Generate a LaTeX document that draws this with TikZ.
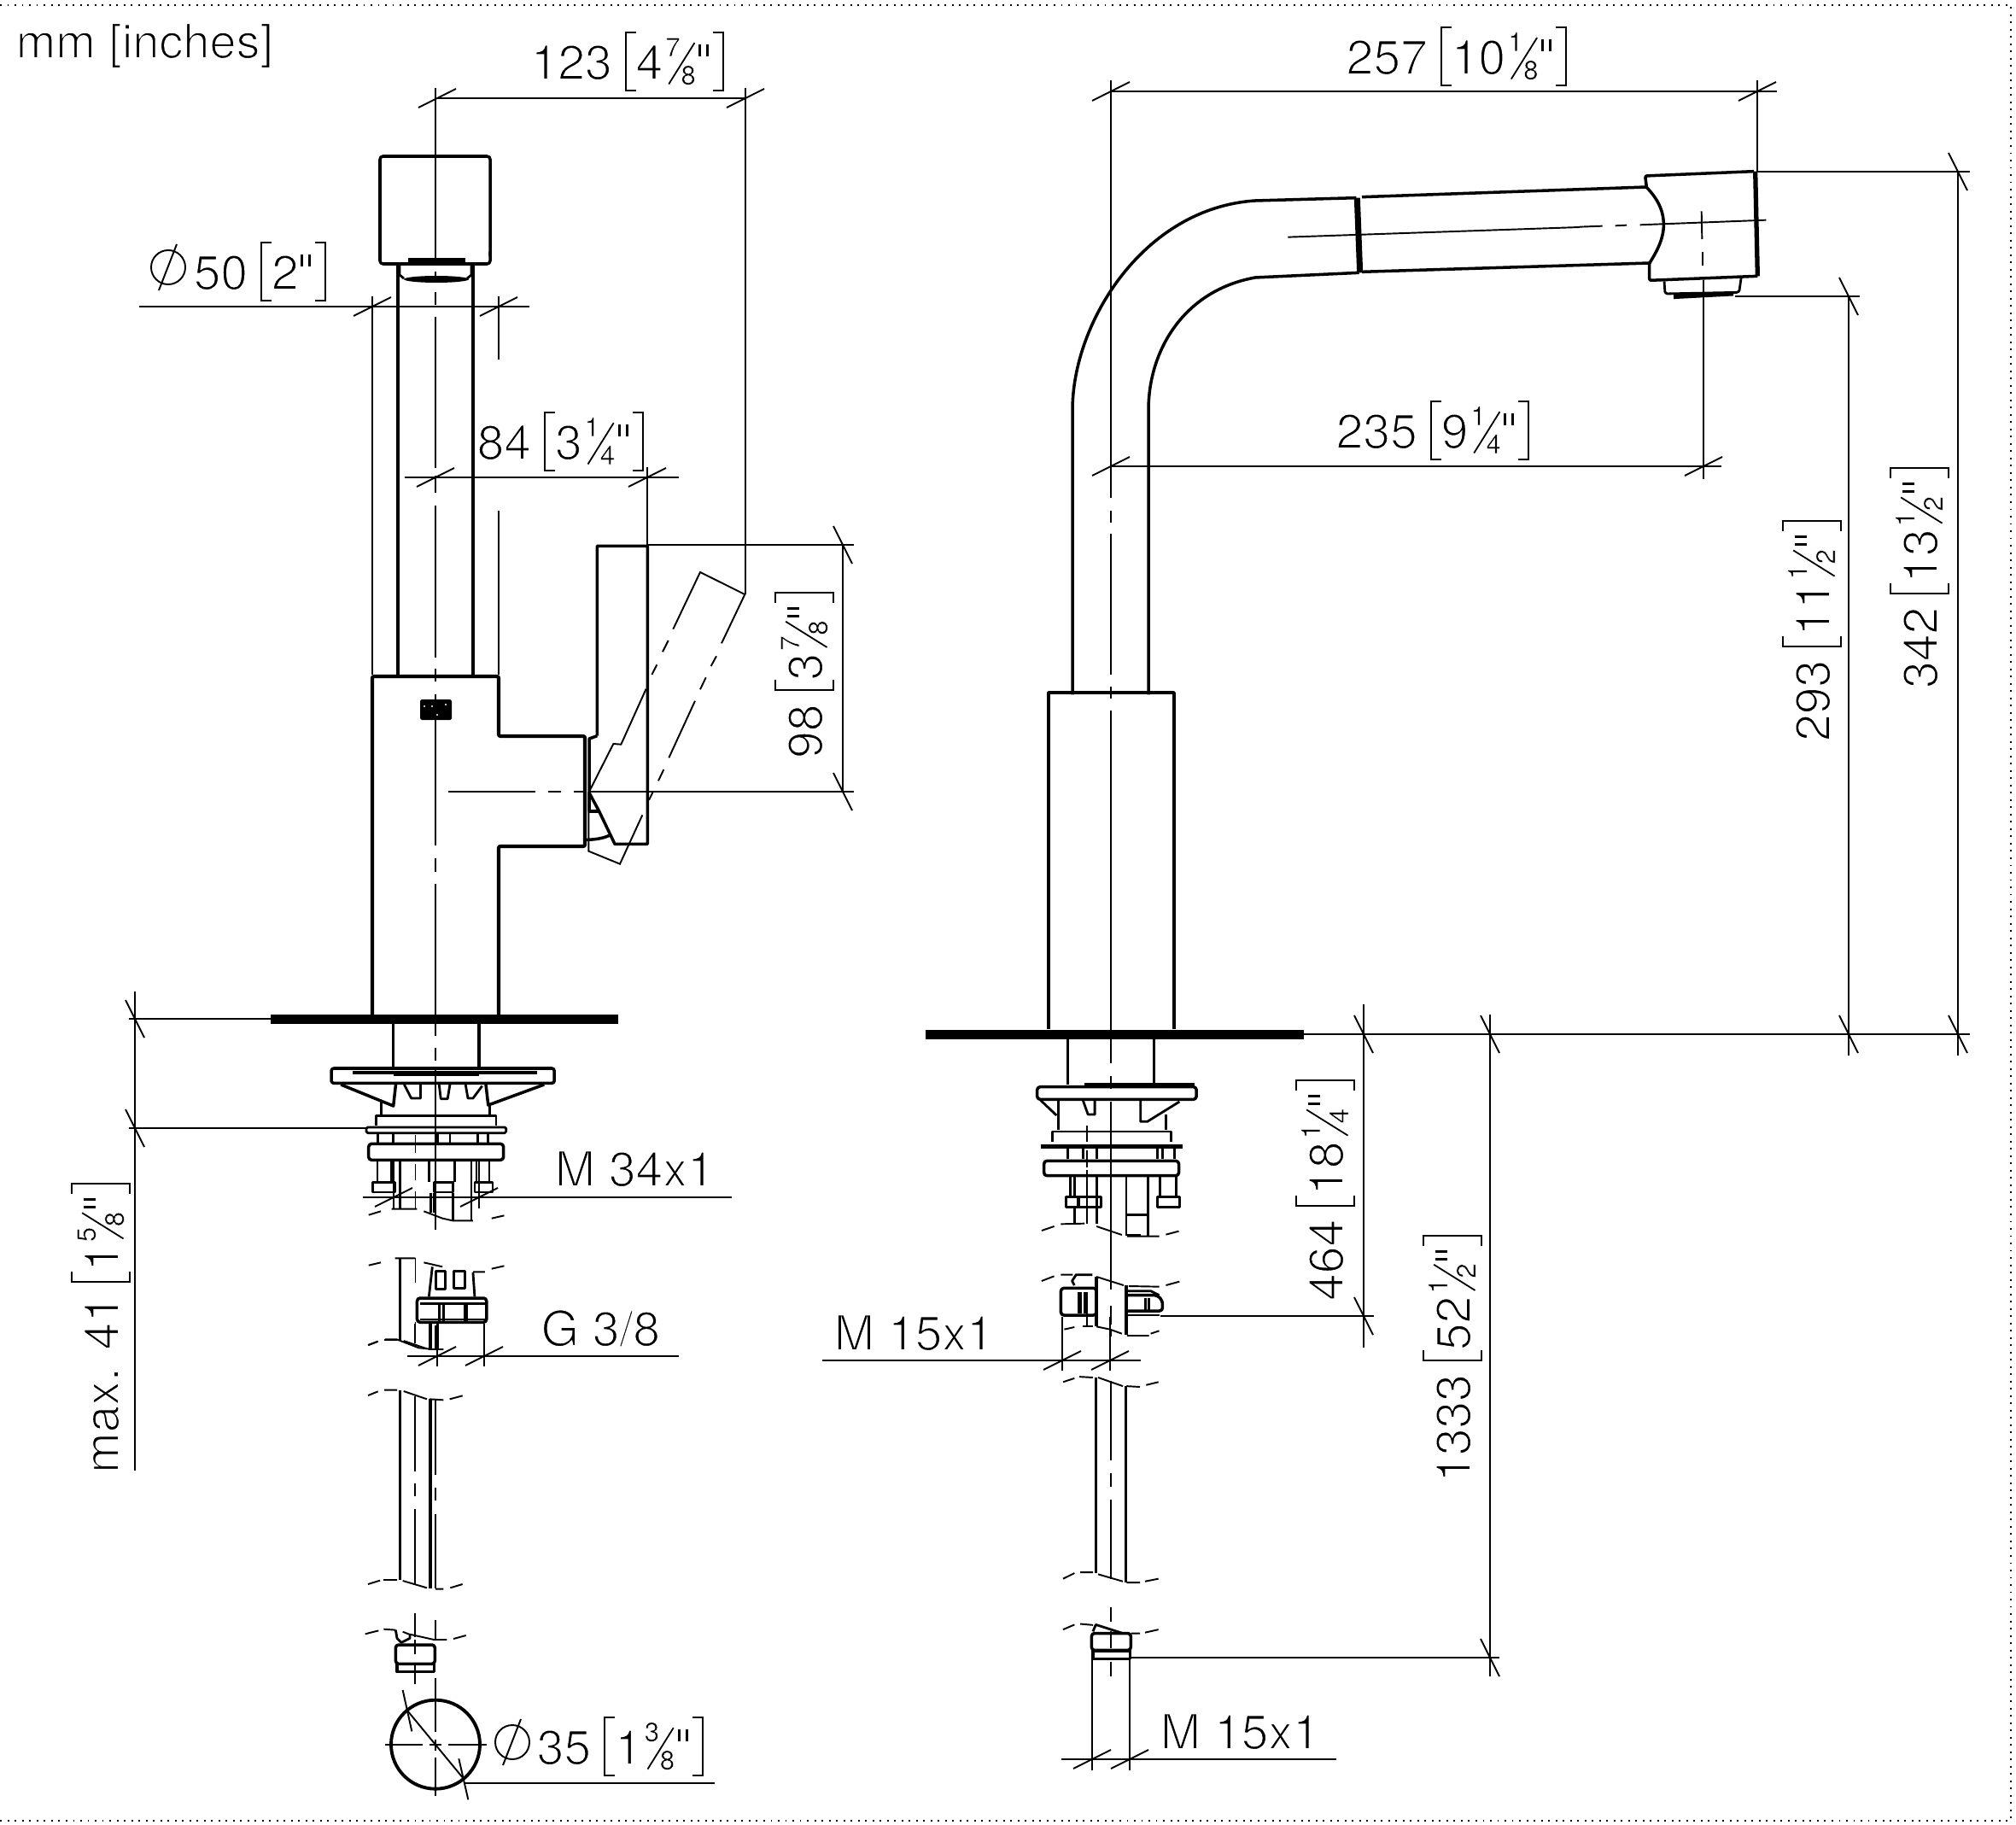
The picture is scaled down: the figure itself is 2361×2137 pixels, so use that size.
\documentclass[tikz,border=0pt]{standalone}
\usepackage{fontspec}
\setmainfont{TeX Gyre Heros}
\newlength\pxu
\setlength\pxu{0.2845pt}
% the drawing has a light face: thin the glyphs with a white outline
\newcommand{\dimfont}{\fontsize{16.2pt}{19pt}\selectfont\special{pdf:code 2 Tr 0.5 w 1 1 1 RG}}
\newcommand{\smallfont}{\fontsize{8.9pt}{10pt}\selectfont\special{pdf:code 2 Tr 0.15 w 1 1 1 RG}}
% thin rules are stroked, so they need a black stroke colour
\newcommand{\brule}[3]{\special{pdf:code 0 0 0 RG}\rule[#1\pxu]{#2\pxu}{#3\pxu}\special{pdf:code 1 1 1 RG}}
\newcommand{\brl}{\rlap{\brule{-14}{2}{70}}\rlap{\brule{-14}{13}{2}}\rlap{\brule{54}{13}{2}}\kern13\pxu}
\newcommand{\brr}{\rlap{\brule{-14}{13}{2}}\rlap{\brule{54}{13}{2}}\rlap{\kern11\pxu\brule{-14}{2}{70}}\kern13\pxu}
\newcommand{\inch}{\kern2\pxu\brule{27}{3}{14}\kern6\pxu\brule{27}{3}{14}\kern2\pxu}
\newcommand{\frc}[2]{\kern3\pxu\rlap{\raisebox{27\pxu}{\smallfont #1}}\rlap{\kern3\pxu\raisebox{-6\pxu}{\rotatebox{58}{\brule{0}{57}{1.8}}}}\rlap{\kern18\pxu\raisebox{-6\pxu}{\smallfont #2}}\kern37\pxu}
\newcommand{\dimtxt}[4]{#1\kern15\pxu\brl #2\frc{#3}{#4}\inch\kern3\pxu\brr}
\tikzset{
    every node/.style={inner sep=0pt,font=\dimfont},
    body/.style={line width=1pt,line join=round},
    part/.style={line width=0.8pt,line join=round},
    dimline/.style={line width=0.55pt},
    zm/.style n args={4}{shift={(#1,#2)},xscale=1/#3,yscale=1/#4},
    txt/.style={anchor=base west,xshift=-0.04cm},
    vtxt/.style={anchor=base west,rotate=90,xshift=-0.035cm},
}

\begin{document}
\begin{tikzpicture}[x=0.01cm,y=-0.01cm]
    \useasboundingbox (0,0) rectangle (2361,2137);
    % dotted frame
    \draw [line width=0.55pt,dash pattern=on 0.55pt off 1.87pt] (0,6) -- (2355,6) -- (2355,2132) -- (0,2132);
    \node [txt] (units) at (22,68) {\fontsize{15.9pt}{19pt}\selectfont mm [inches]};

    % ---- left view: cap, neck, body
    \draw [body,rounded corners=1pt] (445,300) -- (445,183) -- (574,183) -- (574,300);
    \draw [body,rounded corners=1pt] (445,295) -- (445,309) -- (574,309) -- (574,295);
    \draw [line width=1.6pt] (478,305) -- (545,305);
    \draw [body] (466,309) -- (466,790);
    \draw [body] (554,309) -- (554,790);
    \draw [part] (468,309) -- (468,322) -- (473,326);
    \draw [part] (552,309) -- (552,322) -- (547,326);
    \fill (511,327) ellipse (38 and 4);
    \draw [body,rounded corners=0.6pt,line width=1.2pt] (436,1188) -- (436,792) -- (584,792) -- (584,862) -- (685,862) -- (685,991) -- (584,991) -- (584,1188);
    \fill [rounded corners=0.5pt] (492,819) rectangle (529,843);
    \foreach \x/\y in {497/827,506/827,522/825,512/837}
        \fill [white] (\x,\y) circle (1.2);
    \fill (317,1188) rectangle (724,1199);
    % centre line of the left view
    \foreach \a/\b in {103/309,318/328,342/357,371/548,557/577,592/770,783/798,813/990,1005/1021,1035/1213,1227/1242,1253/1440}
        \draw [dimline] (510,\a) -- (510,\b);
    \foreach \a/\b in {525/627,642/657,672/685,690/1000}
        \draw [dimline] (\a,927) -- (\b,927);

    % handle
    \begin{scope}[zm={640}{600}{3}{3}]
        \draw [body] (135,985) -- (135,1150);
        \draw [body] (178,785) -- (178,118) -- (355,118) -- (355,1165) -- (240,1165) -- (185,1050) -- (150,985);
        \draw [body] (178,785) -- (150,795) -- (150,1050) -- (185,1050);
        \draw [body] (135,1150) .. controls (170,1150) and (200,1145) .. (220,1135);
        \draw [dimline] (148,985) -- (235,813) -- (262,815) -- (350,620);
        \draw [dimline] (148,985) -- (148,1190) -- (258,1235) -- (337,1063);
        \draw [dimline] (445,410) -- (540,210) -- (697,288) -- (615,460);
        \foreach \a/\b/\c/\d in {370/570/388/535,408/490/428/450,597/505/578/540,560/580/540/622,522/662/430/862,412/903/393/943,375/980/360/1010}
            \draw [dimline] (\a,\b) -- (\c,\d);
    \end{scope}

    % fixing set under the plate
    \begin{scope}[zm={300}{1150}{2.52}{3}]
        \draw [body] (405,147) -- (405,305);
        \draw [body] (658,147) -- (658,305);
        \draw [body,rounded corners=0.8pt] (222,303) rectangle (880,355);
        \draw [body] (285,318) -- (830,318);
        \draw [line width=1.3pt] (405,322) -- (658,322);
        \draw [body] (250,360) -- (405,435) -- (412,360);
        \draw [body] (850,360) -- (685,432) -- (678,360);
        \draw [part] (370,420) -- (370,465);
        \draw [part] (690,435) -- (690,465);
        \draw [part] (437,360) -- (458,408) -- (485,408) -- (485,360);
        \draw [part] (540,360) -- (545,410) -- (565,410) -- (572,360);
        \draw [part] (618,360) -- (625,408) -- (640,408) -- (667,365);
        \draw [part] (355,505) -- (355,470) -- (708,470) -- (708,505);
        \draw [part,rounded corners=0.5pt] (325,510) rectangle (738,530);
        \foreach \x in {360,405,535,572,655,685}
            \draw [part] (\x,535) -- (\x,565);
        \draw [body,rounded corners=1pt] (332,568) rectangle (730,625);
        \foreach \x in {358,400,510,585,650,688}
            \draw [part] (\x,630) -- (\x,703);
        \draw [part] (345,703) rectangle (410,738);
        \draw [part] (525,703) rectangle (580,738);
        \draw [part] (645,703) rectangle (698,738);
        \draw [part] (425,630) -- (425,798);
        \draw [part] (635,630) -- (635,840);
        \draw [part] (515,740) -- (515,810);
        \draw [part] (525,740) -- (525,810);
        \draw [part] (580,740) -- (580,838);
        \draw [dimline] (332,818) -- (368,805) (400,797) -- (475,797) (495,805) -- (550,830) -- (580,838) -- (640,838) (695,830) -- (732,820);
        \foreach \a/\b in {538/600,640/695,735/797,970/1055}
            \draw [dimline] (470,\a) -- (470,\b);
        % second piece
        \draw [dimline] (332,995) -- (368,985) (410,970) -- (470,970) (495,985) -- (550,1000) (640,1018) -- (675,1018) (695,1007) -- (732,997);
        \draw [body] (425,970) -- (425,1260);
        \draw [part] (520,1000) -- (510,1105);
        \draw [part] (530,1015) rectangle (558,1078);
        \draw [part] (583,1015) rectangle (617,1075);
        \draw [part] (640,1020) -- (645,1105);
        \draw [body,rounded corners=1pt] (475,1110) rectangle (680,1195);
        \draw [part] (483,1130) -- (675,1130) (483,1185) -- (675,1185);
        \foreach \x in {540,553,615,622}
            \draw [part] (\x,1125) -- (\x,1190);
        \draw [part] (513,1200) -- (513,1290);
        \draw [body] (535,1200) -- (535,1290);
        \draw [dimline] (470,1195) -- (470,1270);
        \draw [dimline] (332,1275) -- (360,1262) (380,1255) -- (415,1255) -- (430,1262) -- (480,1285) -- (525,1290);
    \end{scope}

    % pipe of the left view
    \begin{scope}[zm={400}{1550}{3}{3}]
        \draw [dimline] (93,75) -- (128,62) (150,57) -- (195,57) (218,60) -- (300,88) (305,90) -- (358,90);
        \draw [dimline] (93,252) -- (128,238) (150,233) -- (195,233) (218,237) -- (300,265) (310,265) -- (358,268) (380,265) -- (425,253);
        \draw [dimline] (93,915) -- (135,902) (147,900) -- (195,900) (215,903) -- (300,928) (330,932) -- (358,932) (382,928) -- (425,915);
        \draw [body] (205,233) -- (205,900);
        \draw [body] (312,0) -- (312,88);
        \draw [body] (312,265) -- (312,930);
        \draw [part] (330,5) -- (330,90);
        \foreach \a/\b in {0/70,255/518,560/605,650/915}
            \draw [dimline] (258,\a) -- (258,\b);
        \foreach \a/\b in {268/530,575/622,668/930}
            \draw [dimline] (330,\a) -- (330,\b);
    \end{scope}

    % hose end and section circle
    \begin{scope}[zm={400}{1820}{3}{3}]
        \draw [dimline] (83,280) -- (130,268) (148,263) -- (190,266) (215,272) -- (235,280) -- (325,300) -- (370,300) (393,297) -- (437,285);
        \draw [part] (190,266) -- (195,295) -- (210,310) -- (240,295) -- (240,280);
        \draw [body,rounded corners=1pt] (190,318) rectangle (328,385);
        \draw [body] (195,385) rectangle (325,412);
        \foreach \a/\b in {208/292,300/352,390/455}
            \draw [dimline] (258,\a) -- (258,\b);
        \draw [dimline] (330,230) -- (330,300);
        \foreach \a/\b in {435/625,650/690,715/850}
            \draw [dimline] (330,\a) -- (330,\b);
        \foreach \a/\b in {153/285,310/350,375/510}
            \draw [dimline] (\a,668) -- (\b,668);
        \draw [line width=1.1pt] (330,668) circle (156);
        \draw [dimline] (232,550) -- (430,790);
        \draw [dimline] (215,477) -- (247,622);
        \draw [dimline] (412,718) -- (445,862);
    \end{scope}

    % ---- right view: body, spout
    \draw [body] (1228,1205) -- (1228,811) -- (1375,811) -- (1375,1205);
    \draw [body] (1375,848) -- (1375,858);
    \fill (1084,1206) rectangle (1527,1217);
    \foreach \a/\b in {94/583,598/612,625/790,804/818,832/1245,1260/1275,1290/1510}
        \draw [dimline] (1301,\a) -- (1301,\b);
    \begin{scope}[zm={1230}{190}{3}{3}]
        \draw [body] (78,1870) -- (78,870) .. controls (78,560) and (330,160) .. (720,135) -- (1075,125);
        \draw [body] (345,1870) -- (345,870) .. controls (345,660) and (470,450) .. (720,405) -- (1085,388);
        \draw [line width=2pt] (1078,125) -- (1088,388);
        \draw [body] (1095,122) -- (2094,87);
        \draw [body] (1095,385) -- (2106,354);
        \draw [dimline] (835,263) -- (1860,228);
    \end{scope}
    \begin{scope}[zm={1850}{160}{3}{3}]
        \draw [body,rounded corners=0.6pt] (235,178) -- (230,138) -- (612,122);
        \draw [line width=1.5pt] (617,122) -- (625,490);
        \draw [body,rounded corners=0.6pt] (625,490) -- (245,505) -- (245,445);
        \draw [body] (235,178) .. controls (270,215) and (295,255) .. (295,310) .. controls (295,360) and (270,405) .. (245,445);
        \draw [part,rounded corners=0.8pt] (297,508) -- (300,552) -- (560,547) -- (567,498);
        \draw [line width=1.4pt] (330,563) -- (540,552);
        \foreach \a/\b/\c/\d in {0/317/80/314,125/313/165/311,212/310/655/293,428/262/430/360,432/405/432/452,435/505/435/1203}
            \draw [dimline] (\a,\b) -- (\c,\d);
    \end{scope}

    % fixing set of the right view
    \begin{scope}[zm={1050}{1180}{2.52}{3}]
        \draw [body] (505,110) -- (505,270);
        \draw [body] (760,110) -- (760,270);
        \draw [body,rounded corners=1pt] (415,278) rectangle (885,322);
        \draw [body] (555,270) -- (880,270);
        \draw [part] (425,325) -- (472,378);
        \draw [part] (478,325) -- (478,430);
        \draw [part] (550,325) -- (565,375) -- (585,375) -- (585,325);
        \draw [part] (720,325) -- (720,400) -- (740,400) -- (835,330);
        \draw [part] (795,375) -- (795,430);
        \draw [part] (460,470) -- (460,435) -- (810,435) -- (810,470);
        \draw [line width=1.4pt] (425,487) -- (843,487);
        \foreach \x in {505,550,590,770,785,820}
            \draw [part] (\x,495) -- (\x,530);
        \draw [body,rounded corners=1pt] (435,538) rectangle (833,590);
        \foreach \x in {513,525,778,825}
            \draw [part] (\x,595) -- (\x,665);
        \draw [part] (590,595) -- (590,760);
        \draw [part] (678,595) -- (678,800);
        \draw [part] (742,595) -- (742,800);
        \draw [part] (500,665) rectangle (535,700);
        \draw [part] (538,665) rectangle (603,700);
        \draw [part] (770,665) rectangle (835,700);
        \draw [part] (525,700) -- (525,760);
        \draw [part] (680,728) -- (740,728);
        \draw [body] (680,800) -- (722,800);
        \foreach \a/\b in {415/470,500/560,570/760,1000/1118}
            \draw [dimline] (561,\a) -- (561,\b);
        \draw [dimline] (428,783) -- (465,768) (485,760) -- (555,758) (590,768) -- (665,798) (680,803) -- (775,803) (795,797) -- (833,785);
        % second piece
        \draw [dimline] (428,960) -- (465,943) (485,938) -- (520,938) (590,945) -- (670,975) (685,978) -- (775,980) (795,975) -- (835,962);
        \draw [part] (525,975) -- (518,960) -- (530,938) -- (578,938);
        \draw [body,rounded corners=1pt] (485,985) rectangle (590,1080);
        \draw [line width=1.4pt] (540,1000) -- (540,1075);
        \draw [part] (555,1000) -- (555,1075);
        \draw [body] (590,945) -- (590,1120);
        \draw [body] (678,975) -- (678,1150);
        \draw [body,rounded corners=1pt] (680,1010) -- (770,1010) -- (785,1030) -- (785,1065) -- (680,1065);
        \draw [part] (680,995) -- (750,995) -- (775,1010);
        \draw [part] (680,1080) -- (775,1080);
        \draw [part] (735,1020) -- (735,1065);
        \draw [part] (745,1020) -- (745,1065);
        \draw [dimline] (550,1118) -- (580,1118);
        \draw [dimline] (495,1130) -- (525,1122) (590,1120) -- (630,1130) -- (665,1145) (680,1152) -- (745,1152) (750,1145) -- (775,1135);
    \end{scope}

    % pipe and hose end of the right view
    \begin{scope}[zm={1200}{1450}{3}{2.27}]
        \draw [dimline] (135,382) -- (175,372) (192,368) -- (240,370) (258,370) -- (345,393) (358,393) -- (405,395) (427,390) -- (470,382);
        \draw [body] (250,370) -- (250,890);
        \draw [body] (355,392) -- (355,915);
        \draw [dimline] (135,905) -- (175,890) (195,888) -- (240,888) (258,893) -- (345,912) (358,915) -- (405,915) (423,912) -- (470,905);
        \foreach \a/\b in {180/230,240/260,378/590,625/660,695/905,980/1020,1045/1090,1125/1165}
            \draw [dimline] (302,\a) -- (302,\b);
        \draw [dimline] (135,1040) -- (175,1027) (195,1025) -- (240,1028) (375,1050) -- (405,1050) (423,1048) -- (470,1040);
        \draw [part] (240,1045) -- (250,1027) -- (345,1050);
        \draw [body,rounded corners=1pt] (235,1050) rectangle (373,1095);
        \draw [body] (240,1097) rectangle (370,1118);
    \end{scope}

    % ---- dimension lines
    \foreach \a/\b/\c/\d in {512/115/873/115,873/103/873/696,163/359/620/359,436/347/436/790,584/347/584/421,584/598/584/790,474/559/795/559,758/547/758/638,758/638/1000/638,987/638/987/927,
        151/1193/317/1193,151/1321/429/1321,158/1161/158/1722,425/1402/857/1402,477/1588/795/1588,
        1301/107/2081/107,2058/94/2058/201,2057/201/2307/201,1301/546/2016/546,2032/347/2178/347,2165/347/2165/1236,2293/201/2293/1236,1527/1211/2307/1211,
        1597/1176/1597/1578,1359/1541/1609/1541,1745/1188/1745/1963,1323/1941/1756/1941,963/1593/1336/1593,1244/1542/1244/1605,1300/1542/1300/1605,1243/2060/1565/2060,1279/1942/1279/2073,1323/1942/1323/2073,543/2088/837/2088}
        \draw [dimline] (\a,\b) -- (\c,\d);
    % extension lines of the threads
    \begin{scope}[zm={300}{1150}{2.52}{3}]
        \draw [dimline] (405,630) -- (405,795) (658,630) -- (658,795);
        \draw [dimline] (535,1200) -- (535,1350) (672,1200) -- (672,1350);
    \end{scope}
    % ticks on horizontal and on vertical dimensions
    \foreach \x/\y in {512/115,873/115,436/359,584/359,510/559,758/559,461/1402,561/1402,512/1588,567/1588,1301/107,2058/107,1301/546,1995/546,1244/1593,1300/1593,1279/2060,1323/2060}
        \draw [dimline] (\x-22,\y+11) -- (\x+22,\y-11);
    \foreach \x/\y in {987/638,987/927,158/1193,158/1321,2165/347,2165/1211,2293/201,2293/1211,1597/1211,1597/1541,1745/1211,1745/1941}
        \draw [dimline] (\x-11,\y-22) -- (\x+11,\y+22);
    % diameter signs
    \foreach \x/\y in {197/313,600/2040}{
        \draw [dimline] (\x,\y) circle (20);
        \draw [dimline] (\x-11,\y+27) -- (\x+10,\y-27);
    }

    % ---- labels
    \node [txt] (dimA) at (625,93) {\dimtxt{123}{4}{7}{8}};
    \node [txt] (dimB) at (230,339) {50\kern15\pxu\brl 2\inch\kern3\pxu\brr};
    \node [txt] (dimC) at (562,538) {\dimtxt{84}{3}{1}{4}};
    \node [vtxt] (dimD) at (963,885) {\dimtxt{98}{3}{7}{8}};
    \node [vtxt] (dimE) at (139,1722) {\dimtxt{max. 41}{1}{5}{8}};
    \node [txt] (dimF) at (632,2066) {\dimtxt{35}{1}{3}{8}};
    \node [txt] (dimG) at (1580,87) {\dimtxt{257}{10}{1}{8}};
    \node [txt] (dimH) at (1568,525) {\dimtxt{235}{9}{1}{4}};
    \node [vtxt] (dimI) at (2143,865) {\dimtxt{293}{11}{1}{2}};
    \node [vtxt] (dimJ) at (2269,803) {\dimtxt{342}{13}{1}{2}};
    \node [vtxt] (dimK) at (1573,1520) {\dimtxt{464}{18}{1}{4}};
    \node [vtxt] (dimL) at (1722,1733) {\dimtxt{1333}{52}{1}{2}};
    \node [txt] (threadA) at (653,1389) {M 34x1};
    \node [txt] (threadB) at (637,1576) {G 3/8};
    \node [txt] (threadC) at (980,1581) {M 15x1};
    \node [txt] (threadD) at (1362,2048) {M 15x1};
\end{tikzpicture}
\end{document}
